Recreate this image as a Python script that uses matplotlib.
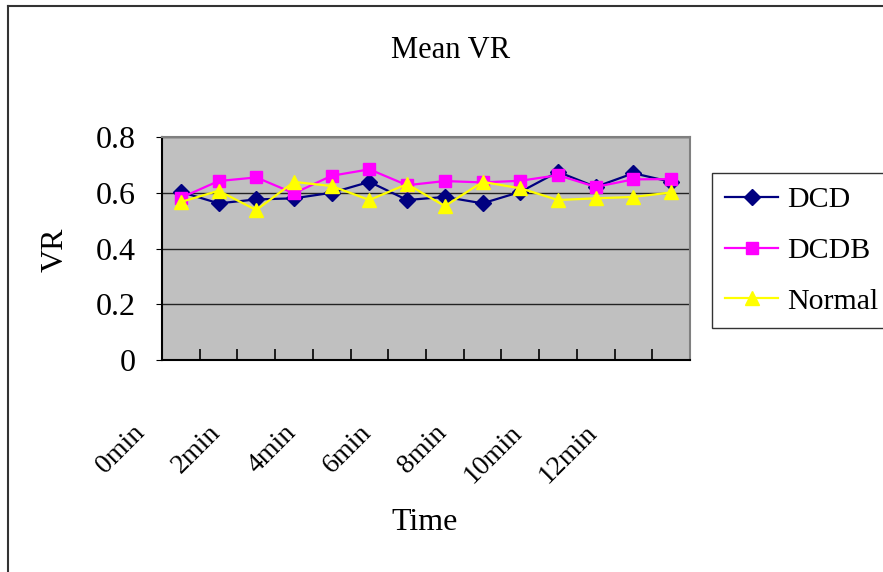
import matplotlib
matplotlib.use("Agg")
import matplotlib.pyplot as plt
from matplotlib.lines import Line2D
from matplotlib.transforms import ScaledTranslation
import numpy as np

plt.rcParams['font.family'] = ['Liberation Serif', 'DejaVu Serif']

# mean VR per time step (14 samples)
dcd = [0.603, 0.562, 0.576, 0.580, 0.600, 0.639, 0.574,
       0.585, 0.562, 0.603, 0.675, 0.621, 0.670, 0.639]
dcdb = [0.582, 0.642, 0.655, 0.598, 0.661, 0.684, 0.627,
        0.642, 0.637, 0.643, 0.663, 0.621, 0.648, 0.649]
normal = [0.567, 0.607, 0.538, 0.639, 0.624, 0.574, 0.631,
          0.552, 0.639, 0.616, 0.574, 0.580, 0.585, 0.601]
time_labels = ['0min', '2min', '4min', '6min', '8min', '10min', '12min']
y_ticks = [0, 0.2, 0.4, 0.6, 0.8]
y_tick_labels = ['0', '0.2', '0.4', '0.6', '0.8']

fs = 23
x = np.arange(len(dcd))

fig = plt.figure(figsize=(8.83, 5.72), dpi=100)
ax = fig.add_axes([162 / 883, 1 - 360 / 572, 528 / 883, 223 / 572])
ax.set_facecolor('#c0c0c0')

ax.plot(x, dcd, color='#000080', lw=1.6, marker='D', ms=8.5,
        mec='#000080', mfc='#000080', label='DCD', zorder=3)
ax.plot(x, dcdb, color='#ff00ff', lw=1.6, marker='s', ms=9,
        mec='#ff00ff', mfc='#ff00ff', label='DCDB', zorder=3)
ax.plot(x, normal, color='#ffff00', lw=1.6, marker='^', ms=10.5,
        mec='#ffff00', mfc='#ffff00', label='Normal', zorder=3)

ax.set_xlim(-0.5, len(dcd) - 0.5)
ax.set_ylim(0, 0.8)
ax.set_yticks(y_ticks)
ax.set_yticklabels(y_tick_labels, fontsize=fs)
ax.yaxis.grid(True, color='#222222', lw=1.0)
ax.set_axisbelow(True)
ax.tick_params(axis='y', direction='out', length=4, pad=15, color='black')

# boundary ticks inside the plot
ax.set_xticks(np.arange(0.5, len(dcd) - 1, 1.0))
ax.set_xticklabels([])
ax.tick_params(axis='x', which='major', direction='in', length=8,
               width=1.2, color='black')

# time labels on every other category boundary
shift = ScaledTranslation(-12 / 100, -60 / 100, fig.dpi_scale_trans)
label_pos = np.arange(-0.5, len(dcd) - 1.5, 2.0)
for pos, lab in zip(label_pos, time_labels):
    ax.text(pos, 0, lab, rotation=45, ha='right', va='top', fontsize=20,
            transform=ax.get_xaxis_transform() + shift, clip_on=False)

for side in ['top', 'right']:
    ax.spines[side].set_color('#808080')
    ax.spines[side].set_linewidth(1.5)
for side in ['left', 'bottom']:
    ax.spines[side].set_color('black')
    ax.spines[side].set_linewidth(1.5)

fig.text(451 / 883, 1 - 50 / 572, 'Mean VR', ha='center', va='center',
         fontsize=22)
fig.text(425 / 883, 1 - 522 / 572, 'Time', ha='center', va='center',
         fontsize=fs)
fig.text(55 / 883, 1 - 250 / 572, 'VR', ha='center', va='center',
         rotation=90, fontsize=fs)

leg = fig.legend(loc='upper left', bbox_to_anchor=(712 / 883, 1 - 173 / 572),
                 fontsize=21.5, frameon=True, fancybox=False, shadow=False,
                 borderaxespad=0, handlelength=1.75, handletextpad=0.3,
                 labelspacing=0.8, borderpad=0.45)
leg.get_frame().set_edgecolor('black')
leg.get_frame().set_linewidth(1.0)

# outer chart frame
fig.add_artist(Line2D([8 / 883, 8 / 883], [0, 1 - 6 / 572],
                      transform=fig.transFigure, color='#333333', lw=1.5))
fig.add_artist(Line2D([8 / 883, 1], [1 - 6 / 572, 1 - 6 / 572],
                      transform=fig.transFigure, color='#333333', lw=1.5))

fig.savefig('out.png', dpi=100)
